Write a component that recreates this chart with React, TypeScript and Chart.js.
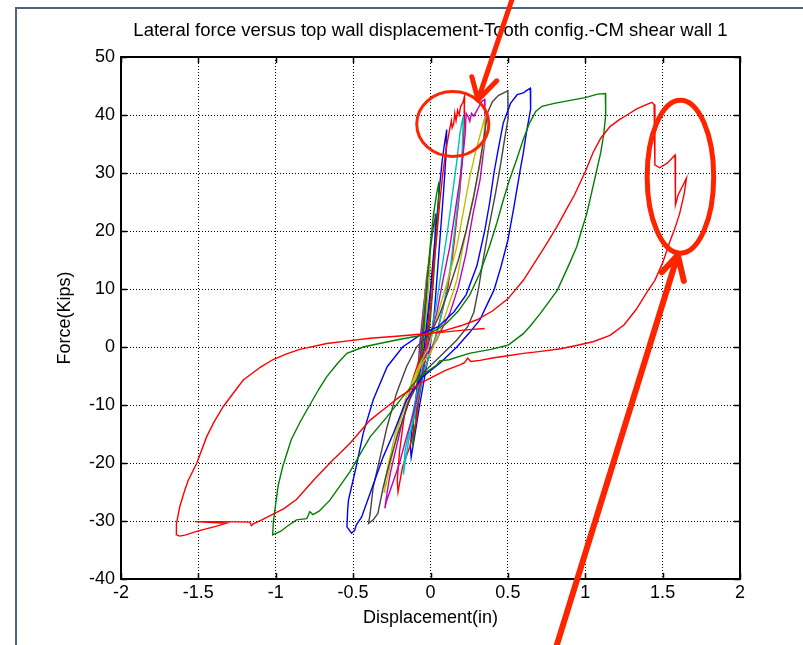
import React, { useEffect, useRef } from 'react';
import { Chart, registerables } from 'chart.js';

Chart.register(...registerables);

// ---- axes ----
const xTicks = [-2, -1.5, -1, -0.5, 0, 0.5, 1, 1.5, 2];
const xTickLabels = ['-2', '-1.5', '-1', '-0.5', '0', '0.5', '1', '1.5', '2'];
const yTicks = [-40, -30, -20, -10, 0, 10, 20, 30, 40, 50];
const yTickLabels = ['-40', '-30', '-20', '-10', '0', '10', '20', '30', '40', '50'];

const titleText = 'Lateral force versus top wall displacement-Tooth config.-CM shear wall 1';
const xTitle = 'Displacement(in)';
const yTitle = 'Force(Kips)';

// ---- hysteresis loops: [displacement (in), force (kips)] ----
const redBig: [number, number][] = [
  [-0.05, 2.0], [0.1, 2.9], [0.2, 3.7], [0.3, 4.7], [0.4, 6.2], [0.5, 8.3], [0.6, 11.5], [0.67, 14.4],
  [0.75, 17.8], [0.82, 20.9], [0.88, 23.8], [0.93, 26.2], [1.0, 30.2], [1.05, 33.5], [1.1, 36.0],
  [1.16, 38.0], [1.22, 39.2], [1.27, 40.0], [1.33, 41.0], [1.38, 41.6], [1.43, 42.2], [1.445, 41.8],
  [1.45, 31.4], [1.48, 30.9], [1.53, 31.7], [1.58, 33.1], [1.583, 24.5], [1.6, 26.2], [1.63, 27.8],
  [1.654, 29.1], [1.64, 26.5], [1.61, 23.0], [1.58, 20.5], [1.55, 18.4], [1.5, 14.5], [1.45, 11.5],
  [1.4, 9.5], [1.33, 6.5], [1.25, 3.8], [1.16, 2.0], [1.05, 0.9], [0.95, 0.3], [0.84, -0.3], [0.7, -0.8],
  [0.6, -1.1], [0.5, -1.5], [0.4, -1.9], [0.32, -2.3], [0.26, -2.5], [0.24, -1.9], [0.22, -2.7],
  [0.19, -3.1], [0.1, -4.0], [0.04, -4.8], [-0.07, -6.3], [-0.2, -8.6], [-0.31, -10.9], [-0.39, -12.6],
  [-0.52, -16.6], [-0.65, -20.0], [-0.75, -22.8], [-0.866, -26.3], [-0.95, -27.9], [-1.017, -28.8],
  [-1.09, -29.8], [-1.146, -30.5], [-1.157, -30.8], [-1.168, -30.2], [-1.35, -30.1], [-1.523, -30.1],
  [-1.32, -30.4], [-1.4, -31.0], [-1.512, -31.8], [-1.58, -32.4], [-1.62, -32.6], [-1.64, -32.4],
  [-1.642, -30.5], [-1.62, -27.5], [-1.588, -24.7], [-1.566, -23.0], [-1.51, -20.0], [-1.447, -15.5],
  [-1.4, -13.0], [-1.34, -10.3], [-1.27, -7.8], [-1.21, -5.7], [-1.1, -3.5], [-1.02, -2.2], [-0.93, -1.2],
  [-0.845, -0.4], [-0.67, 0.6], [-0.52, 1.1], [-0.39, 1.5], [-0.2, 1.9], [-0.07, 2.2], [0.1, 2.6],
  [0.25, 3.0], [0.35, 3.2],
];

const greenBig: [number, number][] = [
  [0.0, 2.4], [0.1, 4.0], [0.18, 6.2], [0.254, 9.0], [0.32, 12.8], [0.383, 17.5], [0.43, 21.5],
  [0.47, 25.3], [0.51, 28.8], [0.555, 32.2], [0.6, 35.8], [0.64, 38.6], [0.68, 40.6], [0.72, 41.5],
  [0.8, 42.0], [0.92, 42.6], [1.0, 43.0], [1.08, 43.6], [1.13, 43.7], [1.132, 40.0], [1.12, 36.8],
  [1.1, 33.5], [1.07, 30.0], [1.04, 26.5], [1.01, 23.0], [0.975, 20.0], [0.945, 17.3], [0.9, 14.5],
  [0.82, 9.8], [0.76, 7.6], [0.71, 5.8], [0.65, 3.8], [0.6, 2.3], [0.5, 0.3], [0.39, -0.4], [0.25, -1.1],
  [0.12, -2.2], [0.06, -2.4], [0.04, -3.1], [-0.07, -5.1], [-0.18, -8.6], [-0.28, -12.0], [-0.39, -15.5],
  [-0.52, -21.5], [-0.65, -26.4], [-0.72, -28.3], [-0.76, -28.9], [-0.78, -28.4], [-0.8, -29.6],
  [-0.866, -29.8], [-0.93, -31.0], [-0.97, -31.8], [-1.02, -32.4], [-1.015, -30.0], [-1.0, -27.0],
  [-0.985, -24.0], [-0.955, -20.6], [-0.9, -16.0], [-0.84, -12.8], [-0.78, -10.0], [-0.72, -7.2],
  [-0.67, -5.1], [-0.6, -2.8], [-0.54, -1.1], [-0.435, 0.0], [-0.33, 0.6], [-0.22, 1.2], [-0.1, 1.8],
  [0.0, 2.4],
];

const blueBig: [number, number][] = [
  [-0.05, 2.4], [0.05, 3.5], [0.15, 6.0], [0.23, 9.0], [0.3, 14.0], [0.35, 20.0], [0.383, 25.0],
  [0.41, 30.0], [0.437, 34.0], [0.47, 38.6], [0.517, 42.0], [0.56, 43.5], [0.6, 43.8], [0.62, 44.2],
  [0.645, 44.6], [0.647, 41.0], [0.62, 37.0], [0.6, 33.5], [0.58, 30.6], [0.54, 24.3], [0.5, 18.4],
  [0.455, 13.8], [0.41, 9.8], [0.36, 7.0], [0.32, 4.7], [0.25, 2.4], [0.17, 0.0], [0.06, -2.8],
  [-0.05, -5.1], [-0.155, -9.1], [-0.24, -14.9], [-0.305, -18.9], [-0.39, -25.2], [-0.445, -29.3],
  [-0.48, -30.7], [-0.49, -31.6], [-0.51, -32.1], [-0.54, -31.0], [-0.535, -28.0], [-0.53, -26.4],
  [-0.48, -20.6], [-0.435, -14.9], [-0.37, -9.1], [-0.28, -3.4], [-0.18, 0.0], [-0.05, 2.4],
];

const grayBig: [number, number][] = [
  [-0.09, 0.0], [0.0, 2.4], [0.05, 5.0], [0.12, 10.0], [0.18, 15.0], [0.23, 20.0], [0.28, 26.0],
  [0.32, 32.0], [0.35, 37.0], [0.37, 40.5], [0.4, 42.3], [0.44, 43.4], [0.48, 43.9], [0.5, 44.2],
  [0.502, 39.5], [0.48, 36.0], [0.45, 31.0], [0.42, 26.5], [0.38, 21.0], [0.34, 15.0], [0.31, 10.0],
  [0.28, 6.0], [0.24, 3.5], [0.17, 1.2], [0.06, -1.7], [-0.05, -4.5], [-0.134, -9.1], [-0.21, -14.9],
  [-0.26, -19.5], [-0.305, -24.1], [-0.34, -28.7], [-0.37, -29.8], [-0.4, -30.4], [-0.39, -28.7],
  [-0.37, -24.1], [-0.33, -19.5], [-0.28, -13.7], [-0.22, -8.0], [-0.155, -3.4], [-0.09, 0.0],
];

const magentaLoop: [number, number][] = [
  [-0.02, 0.0], [0.0, 2.0], [0.04, 5.8], [0.08, 11.5], [0.125, 17.3], [0.157, 23.0], [0.19, 28.8],
  [0.21, 33.0], [0.225, 37.0], [0.23, 40.3], [0.245, 39.6], [0.254, 38.9], [0.265, 40.3], [0.28, 39.8],
  [0.3, 40.8], [0.31, 41.3], [0.33, 42.3], [0.35, 42.7], [0.352, 35.7], [0.32, 28.8], [0.275, 23.0],
  [0.23, 16.2], [0.18, 10.4], [0.125, 5.8], [0.06, 2.4], [0.04, 1.2], [-0.05, -2.2], [-0.11, -6.8],
  [-0.18, -12.6], [-0.22, -17.2], [-0.26, -21.8], [-0.28, -25.0], [-0.295, -27.8], [-0.285, -26.6],
  [-0.26, -24.7], [-0.2, -20.0], [-0.155, -15.5], [-0.11, -11.4], [-0.07, -6.8], [-0.02, 0.0],
];

const yellowLoop: [number, number][] = [
  [-0.01, 0.0], [0.02, 3.0], [0.06, 6.9], [0.125, 12.7], [0.17, 17.3], [0.21, 23.0], [0.25, 28.8],
  [0.29, 33.5], [0.33, 37.5], [0.35, 39.5], [0.345, 35.0], [0.3, 28.8], [0.254, 23.0], [0.21, 17.3],
  [0.17, 11.5], [0.1, 5.8], [0.05, 2.0], [0.0, -1.0], [-0.06, -3.0], [-0.12, -7.0], [-0.2, -13.0],
  [-0.25, -19.0], [-0.285, -23.5], [-0.3, -25.0], [-0.295, -23.0], [-0.27, -20.0], [-0.22, -14.0],
  [-0.15, -8.0], [-0.07, -3.0], [-0.01, 0.0],
];

const cyanLoop: [number, number][] = [
  [-0.02, 0.0], [0.0, 2.0], [0.03, 6.0], [0.07, 13.0], [0.11, 20.0], [0.14, 26.0], [0.17, 32.0],
  [0.19, 36.8], [0.205, 39.0], [0.212, 39.8], [0.205, 34.0], [0.19, 28.0], [0.16, 21.0], [0.13, 14.0],
  [0.09, 8.0], [0.05, 3.0], [0.0, -1.0], [-0.05, -5.0], [-0.1, -11.0], [-0.14, -16.0], [-0.165, -20.0],
  [-0.175, -22.0], [-0.165, -18.0], [-0.12, -12.0], [-0.08, -7.0], [-0.04, -2.0], [-0.02, 0.0],
];

const redInner: [number, number][] = [
  [-0.03, 0.0], [-0.01, 4.0], [0.01, 9.0], [0.02, 14.0], [0.04, 19.0], [0.06, 25.0], [0.08, 30.0],
  [0.095, 33.0], [0.11, 35.5], [0.125, 37.7], [0.135, 39.0], [0.14, 37.8], [0.15, 38.5], [0.157, 40.3],
  [0.165, 39.0], [0.175, 40.8], [0.185, 40.0], [0.195, 41.5], [0.21, 42.2], [0.22, 43.2], [0.218, 38.0],
  [0.205, 32.0], [0.19, 27.0], [0.165, 21.0], [0.14, 15.0], [0.11, 10.0], [0.07, 5.5], [0.03, 1.5],
  [-0.02, -2.5], [-0.07, -6.8], [-0.09, -12.6], [-0.134, -17.2], [-0.18, -20.6], [-0.2, -23.5],
  [-0.21, -25.0], [-0.215, -23.0], [-0.2, -18.0], [-0.17, -12.0], [-0.12, -6.0], [-0.07, -2.0],
  [-0.03, 0.0],
];

const greenInner: [number, number][] = [
  [-0.05, 0.0], [-0.035, 6.0], [-0.02, 12.0], [0.0, 18.0], [0.02, 23.0], [0.04, 26.5], [0.055, 28.5],
  [0.05, 24.0], [0.035, 18.0], [0.02, 12.0], [0.0, 5.0], [-0.02, 0.0], [-0.05, -5.0], [-0.08, -10.0],
  [-0.1, -14.0], [-0.115, -17.0], [-0.11, -13.0], [-0.095, -9.0], [-0.07, -4.0], [-0.05, 0.0],
];

const blueInner: [number, number][] = [
  [-0.04, 0.0], [-0.02, 5.0], [0.0, 10.0], [0.02, 16.0], [0.04, 22.0], [0.06, 28.0], [0.075, 32.0],
  [0.09, 35.0], [0.1, 36.6], [0.105, 37.5], [0.1, 33.0], [0.085, 27.0], [0.065, 20.0], [0.045, 13.0],
  [0.025, 6.0], [0.0, 0.5], [-0.03, -4.0], [-0.07, -10.0], [-0.1, -15.0], [-0.125, -19.0], [-0.13, -17.0],
  [-0.115, -13.0], [-0.09, -8.0], [-0.06, -3.0], [-0.04, 0.0],
];

const grayInner: [number, number][] = [
  [-0.06, 0.0], [-0.04, 6.0], [-0.02, 12.0], [0.0, 17.0], [0.02, 21.0], [0.035, 23.0], [0.03, 18.0],
  [0.01, 12.0], [-0.01, 6.0], [-0.03, 0.0], [-0.06, -5.0], [-0.08, -9.0], [-0.095, -12.5], [-0.09, -9.0],
  [-0.075, -4.0], [-0.06, 0.0],
];

const yellowInner: [number, number][] = [
  [-0.06, 0.0], [-0.045, 5.0], [-0.03, 10.0], [-0.015, 14.0], [0.0, 17.0], [-0.005, 13.0], [-0.02, 8.0],
  [-0.035, 3.0], [-0.05, -1.0], [-0.07, -5.0], [-0.085, -9.0], [-0.08, -6.0], [-0.07, -2.0], [-0.06, 0.0],
];

const magentaInner: [number, number][] = [
  [-0.07, 0.0], [-0.055, 4.0], [-0.04, 8.0], [-0.025, 12.0], [-0.015, 14.0], [-0.02, 10.0], [-0.035, 6.0],
  [-0.05, 2.0], [-0.065, -2.0], [-0.08, -6.0], [-0.09, -8.0], [-0.085, -5.0], [-0.075, -2.0], [-0.07, 0.0],
];

const cyanInner: [number, number][] = [
  [-0.07, 0.0], [-0.06, 3.0], [-0.045, 7.0], [-0.03, 10.0], [-0.035, 7.0], [-0.05, 3.0], [-0.065, -1.0],
  [-0.08, -4.0], [-0.085, -6.0], [-0.08, -3.0], [-0.07, 0.0],
];

const loopSeries: { name: string; data: [number, number][]; color: string }[] = [
  { name: 'red big', data: redBig, color: '#ff0000' },
  { name: 'green big', data: greenBig, color: '#008000' },
  { name: 'blue big', data: blueBig, color: '#0000ff' },
  { name: 'black', data: grayBig, color: '#454545' },
  { name: 'yellow', data: yellowLoop, color: '#bfbf00' },
  { name: 'magenta', data: magentaLoop, color: '#bf00bf' },
  { name: 'cyan', data: cyanLoop, color: '#00bfbf' },
  { name: 'red inner', data: redInner, color: '#ff0000' },
  { name: 'green inner', data: greenInner, color: '#008000' },
  { name: 'blue inner', data: blueInner, color: '#0000ff' },
  { name: 'black inner', data: grayInner, color: '#454545' },
  { name: 'yellow inner', data: yellowInner, color: '#bfbf00' },
  { name: 'magenta inner', data: magentaInner, color: '#bf00bf' },
  { name: 'cyan inner', data: cyanInner, color: '#00bfbf' },
];

// ---- hand-drawn annotations, in data units ----
const annColor = '#ff2400';
const circleSmall = { cx: 0.144, cy: 38.45, rx: 0.233, ry: 5.6, width: 3 };
const arrowTop = { from: [0.525, 59.8], tip: [0.307, 42.6], barbA: [0.267, 46.6], barbB: [0.428, 45.9], width: 5 };
const ellipseBig = { cx: 1.615, cy: 29.36, rx: 0.215, ry: 13.2, width: 5 };
const arrowBottom = { from: [0.816, -51.4], tip: [1.598, 15.86], barbA: [1.495, 12.9], barbB: [1.637, 11.4], width: 6 };

const FONT = "'Liberation Sans', Arial, Helvetica, sans-serif";

const boxPlugin = {
  id: 'matlabBox',
  afterDatasetsDraw(chart: any) {
    const { ctx, chartArea, scales } = chart;
    const { left, right, top, bottom } = chartArea;
    ctx.save();
    ctx.strokeStyle = '#000';
    ctx.lineWidth = 1.5;
    xTicks.forEach((v) => {
      const X = Math.round(scales.x.getPixelForValue(v)) + 0.5;
      ctx.beginPath();
      ctx.moveTo(X, bottom); ctx.lineTo(X, bottom - 6);
      ctx.moveTo(X, top); ctx.lineTo(X, top + 6);
      ctx.stroke();
    });
    yTicks.forEach((v) => {
      const Y = Math.round(scales.y.getPixelForValue(v)) + 0.5;
      ctx.beginPath();
      ctx.moveTo(left, Y); ctx.lineTo(left + 6, Y);
      ctx.moveTo(right, Y); ctx.lineTo(right - 6, Y);
      ctx.stroke();
    });
    ctx.lineWidth = 2;
    ctx.strokeRect(left, top, right - left, bottom - top);
    ctx.restore();
  },
};

const annotationPlugin = {
  id: 'annotations',
  afterDraw(chart: any) {
    const { ctx, scales } = chart;
    const px = (v: number) => scales.x.getPixelForValue(v);
    const py = (v: number) => scales.y.getPixelForValue(v);
    ctx.save();
    ctx.strokeStyle = annColor;
    ctx.lineCap = 'round';
    ctx.lineJoin = 'round';
    const ell = (e: any) => {
      ctx.lineWidth = e.width;
      ctx.beginPath();
      ctx.ellipse(px(e.cx), py(e.cy), Math.abs(px(e.cx + e.rx) - px(e.cx)), Math.abs(py(e.cy + e.ry) - py(e.cy)), 0, 0, Math.PI * 2);
      ctx.stroke();
    };
    const arrow = (a: any) => {
      ctx.lineWidth = a.width;
      ctx.beginPath();
      ctx.moveTo(px(a.from[0]), py(a.from[1]));
      ctx.lineTo(px(a.tip[0]), py(a.tip[1]));
      ctx.moveTo(px(a.barbA[0]), py(a.barbA[1]));
      ctx.lineTo(px(a.tip[0]), py(a.tip[1]));
      ctx.lineTo(px(a.barbB[0]), py(a.barbB[1]));
      ctx.stroke();
    };
    ell(circleSmall);
    arrow(arrowTop);
    ell(ellipseBig);
    arrow(arrowBottom);
    ctx.restore();
  },
};

export default function App() {
  const ref = useRef<HTMLCanvasElement | null>(null);
  useEffect(() => {
    if (!ref.current) return;
    const chart = new Chart(ref.current, {
      type: 'scatter',
      data: {
        datasets: loopSeries.map((s) => ({
          label: s.name,
          data: s.data.map(([x, y]) => ({ x, y })),
          showLine: true,
          borderColor: s.color,
          backgroundColor: s.color,
          borderWidth: 1.4,
          pointRadius: 0,
          pointHoverRadius: 0,
          tension: 0,
          fill: false,
        })),
      },
      options: {
        animation: false,
        responsive: false,
        devicePixelRatio: 1,
        events: [],
        layout: { padding: { left: 0, right: 63, top: 0, bottom: 0 } },
        plugins: {
          legend: { display: false },
          tooltip: { enabled: false },
          title: {
            display: true,
            text: titleText,
            color: '#000',
            fullSize: false,
            font: { family: FONT, size: 18.5, weight: 'normal' },
            padding: { top: 20, bottom: 14.8 },
          },
        },
        scales: {
          x: {
            type: 'linear',
            position: 'bottom',
            min: -2,
            max: 2,
            afterBuildTicks: (axis: any) => { axis.ticks = xTicks.map((v) => ({ value: v })); },
            afterFit: (scale: any) => { scale.height = 66; },
            ticks: {
              color: '#000',
              font: { family: FONT, size: 18 },
              padding: 3,
              maxRotation: 0,
              autoSkip: false,
              callback: (v: any) => { const i = xTicks.indexOf(Number(v)); return i >= 0 ? xTickLabels[i] : ''; },
            },
            grid: { color: '#000', lineWidth: 1, drawTicks: false },
            border: { display: false, dash: [1, 2] },
            title: { display: true, text: xTitle, color: '#000', font: { family: FONT, size: 18 }, padding: { top: 0, bottom: 16 } },
          },
          y: {
            type: 'linear',
            position: 'left',
            min: -40,
            max: 50,
            afterBuildTicks: (axis: any) => { axis.ticks = yTicks.map((v) => ({ value: v })); },
            afterFit: (scale: any) => { scale.width = 121; },
            ticks: {
              color: '#000',
              font: { family: FONT, size: 18 },
              padding: 6,
              autoSkip: false,
              callback: (v: any) => { const i = yTicks.indexOf(Number(v)); return i >= 0 ? yTickLabels[i] : ''; },
            },
            grid: { color: '#000', lineWidth: 1, drawTicks: false },
            border: { display: false, dash: [1, 2] },
            title: { display: true, text: yTitle, color: '#000', font: { family: FONT, size: 18 }, padding: { top: 54, bottom: 0 } },
          },
        },
      },
      plugins: [boxPlugin, annotationPlugin],
    } as any);
    return () => chart.destroy();
  }, []);

  return (
    <div style={{ position: 'fixed', left: 0, top: 0, width: 803, height: 645, overflow: 'hidden', background: '#fff' }}>
      <div
        style={{
          position: 'absolute', left: 15, top: 7, width: 800, height: 650,
          borderLeft: '2px solid #4a6482', borderTop: '2px solid #4a6482', boxSizing: 'border-box',
        }}
      />
      <canvas ref={ref} width={803} height={645} style={{ position: 'absolute', left: 0, top: 0, width: 803, height: 645, display: 'block' }} />
    </div>
  );
}
